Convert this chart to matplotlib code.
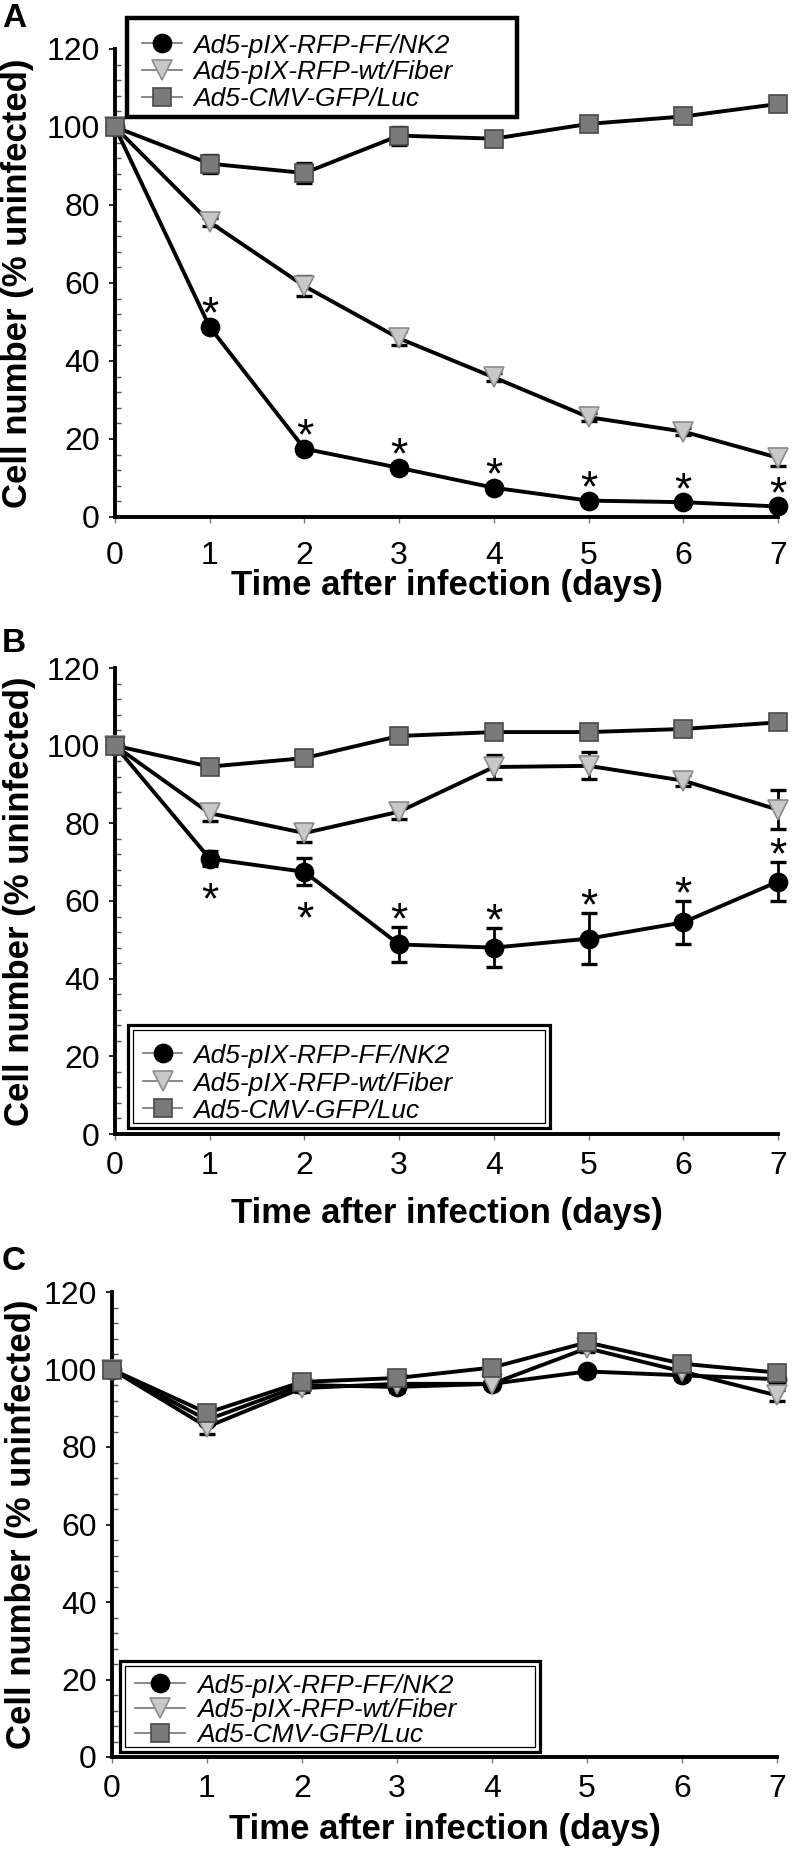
import matplotlib
matplotlib.use("Agg")
import matplotlib.pyplot as plt
from matplotlib.lines import Line2D
from matplotlib.patches import Rectangle
from matplotlib.ticker import MultipleLocator

plt.rcParams['font.family'] = ['Liberation Sans', 'DejaVu Sans']

# ---- data ----
days = [0, 1, 2, 3, 4, 5, 6, 7]
labels = ['Ad5-pIX-RFP-FF/NK2', 'Ad5-pIX-RFP-wt/Fiber', 'Ad5-CMV-GFP/Luc']

# panel A
a_ff = [100, 48.7, 17.5, 12.6, 7.5, 4.2, 3.8, 2.7]
a_ff_err = [0, 1.0, 1.0, 1.0, 1.0, 0.8, 0.8, 0.8]
a_wt = [100, 75.6, 59.2, 45.8, 35.8, 25.6, 21.9, 15.2]
a_wt_err = [0, 1.0, 2.5, 1.8, 1.0, 1.0, 1.0, 2.2]
a_luc = [100, 90.6, 88.2, 97.8, 97.0, 100.8, 102.7, 105.9]
a_luc_err = [0, 2.3, 2.6, 2.3, 1.5, 1.2, 1.8, 1.2]
a_stars = [(1, 'up'), (2, 'up'), (3, 'up'), (4, 'up'), (5, 'up'), (6, 'up'), (7, 'up')]

# panel B
b_ff = [100, 70.9, 67.5, 48.8, 48.0, 50.3, 54.5, 65.0]
b_ff_err = [0, 2.0, 3.5, 4.5, 5.0, 6.5, 5.5, 5.0]
b_wt = [100, 82.6, 77.5, 83.0, 94.5, 94.8, 91.0, 83.5]
b_wt_err = [0, 2.0, 2.2, 2.0, 3.0, 3.5, 1.5, 5.0]
b_luc = [100, 94.6, 96.8, 102.5, 103.5, 103.5, 104.3, 106.0]
b_luc_err = [0, 1.0, 1.0, 1.0, 1.5, 1.8, 1.8, 1.5]
b_stars = [(1, 'down'), (2, 'down'), (3, 'up'), (4, 'up'), (5, 'up'), (6, 'up'), (7, 'up')]

# panel C
c_ff = [100, 87.0, 96.0, 95.5, 96.3, 99.5, 98.5, 97.5]
c_ff_err = [0, 1.0, 1.0, 1.2, 1.0, 1.2, 1.0, 2.0]
c_wt = [100, 85.2, 95.2, 96.3, 96.3, 105.5, 99.5, 93.3]
c_wt_err = [0, 1.8, 1.0, 1.0, 1.0, 1.0, 1.0, 1.5]
c_luc = [100, 88.8, 96.8, 97.8, 100.5, 107.0, 101.5, 99.2]
c_luc_err = [0, 1.0, 1.0, 1.5, 1.0, 1.5, 1.0, 1.5]
c_stars = []

W, H = 798, 1850


def fx(x):
    return x / W


def fy(y):
    return 1 - y / H


styles = [
    dict(marker='o', mfc='black', mec='black', ms=13),
    dict(marker='v', mfc='#c8c8c8', mec='#8c8c8c', ms=14),
    dict(marker='s', mfc='#7a7a7a', mec='#4a4a4a', ms=12.5),
]

fig = plt.figure(figsize=(W / 100, H / 100), dpi=100)


def legend_box(rows, line_x, text_x, frame, double, size=19):
    # hand-placed legend so the rows sit where they are in the figure
    for y, lab, st in zip(rows, labels, styles):
        fig.add_artist(Line2D([fx(line_x[0]), fx(line_x[1])], [fy(y), fy(y)],
                              transform=fig.transFigure, color='#808080', lw=1.3, zorder=20))
        fig.add_artist(Line2D([fx((line_x[0] + line_x[1]) / 2)], [fy(y)],
                              transform=fig.transFigure, ls='none', marker=st['marker'],
                              ms=st['ms'], mfc=st['mfc'], mec=st['mec'], mew=1.2, zorder=21))
        fig.text(fx(text_x), fy(y + 0.36 * size * 100 / 72), lab, fontsize=size,
                 style='italic', ha='left', va='baseline', zorder=22)
    x0, y0, x1, y1 = frame
    fig.add_artist(Rectangle((fx(x0), fy(y1)), (x1 - x0) / W, (y1 - y0) / H,
                             transform=fig.transFigure, fill=False, ec='black',
                             lw=3.2 if not double else 2.3, zorder=20))
    if double:
        fig.add_artist(Rectangle((fx(x0 + 5), fy(y1 - 5)), (x1 - x0 - 10) / W,
                                 (y1 - y0 - 10) / H, transform=fig.transFigure,
                                 fill=False, ec='black', lw=0.9, zorder=20))


def panel(box, series, errs, stars, letter, letter_y, xlab_y, ylab_x, xpad, star_gap=(5.0, 5.5)):
    left, top, right, bottom = box
    ax = fig.add_axes([fx(left), fy(bottom), (right - left) / W, (bottom - top) / H])
    ax.set_xlim(0, 7)
    ax.set_ylim(0, 120)
    for s in ['top', 'right']:
        ax.spines[s].set_visible(False)
    for s in ['left', 'bottom']:
        ax.spines[s].set_linewidth(2.8)
    ax.set_xticks(days)
    ax.set_yticks(range(0, 121, 20))
    ax.yaxis.set_minor_locator(MultipleLocator(4))
    ax.tick_params(axis='y', which='major', labelsize=23, length=4, width=1.2,
                   direction='out', pad=7)
    ax.tick_params(axis='y', which='minor', length=4, width=1, direction='in',
                   color='#555555')
    ax.tick_params(axis='x', labelsize=23, length=4, width=1, direction='out',
                   color='#777777', pad=xpad)

    # error bars under the lines
    for vals, e in zip(series, errs):
        eb = ax.errorbar(days, vals, yerr=e, fmt='none', ecolor='black',
                         elinewidth=2, capsize=6, capthick=2.4, zorder=2)
        for art in eb.lines[1] + eb.lines[2]:
            art.set_clip_on(False)
    for i, (vals, st) in enumerate(zip(series, styles)):
        ax.plot(days, vals, color='black', lw=2.8, marker=st['marker'], ms=st['ms'],
                mfc=st['mfc'], mec=st['mec'], mew=1.2, clip_on=False, zorder=3 + i)

    ff, ff_err = series[0], errs[0]
    for d, side in stars:
        if side == 'up':
            ys = ff[d] + ff_err[d] + star_gap[0]
        else:
            ys = ff[d] - ff_err[d] - star_gap[1]
        ax.annotate('*', xy=(d, ys), xytext=(0, -18.5), textcoords='offset points',
                    ha='center', va='baseline', fontsize=32,
                    annotation_clip=False)

    fig.text(fx(2), fy(letter_y), letter, fontsize=24, fontweight='bold',
             ha='left', va='baseline')
    fig.text(fx((left + right) / 2), fy(xlab_y), 'Time after infection (days)',
             fontsize=25, fontweight='bold', ha='center', va='center')
    fig.text(fx(ylab_x), fy((top + bottom) / 2), 'Cell number (% uninfected)',
             fontsize=25, fontweight='bold', ha='center', va='center', rotation=90)
    return ax


panel((115, 49, 778, 517), [a_ff, a_wt, a_luc], [a_ff_err, a_wt_err, a_luc_err], a_stars,
      'A', 27, 585, 18, 13, star_gap=(5.5, 5.5))
legend_box([43, 70, 97], (142, 182), 193, (127, 18, 517, 117), False)

panel((115, 668, 778, 1134), [b_ff, b_wt, b_luc], [b_ff_err, b_wt_err, b_luc_err], b_stars,
      'B', 652, 1213, 20, 8)
legend_box([1053, 1081, 1108], (143, 182), 193, (128, 1025, 550, 1128), True)

panel((112, 1292, 777, 1757), [c_ff, c_wt, c_luc], [c_ff_err, c_wt_err, c_luc_err], c_stars,
      'C', 1270, 1830, 22, 8)
legend_box([1683, 1708, 1733], (135, 185), 197, (120, 1661, 540, 1752), True)

fig.savefig('out.png', dpi=100)
